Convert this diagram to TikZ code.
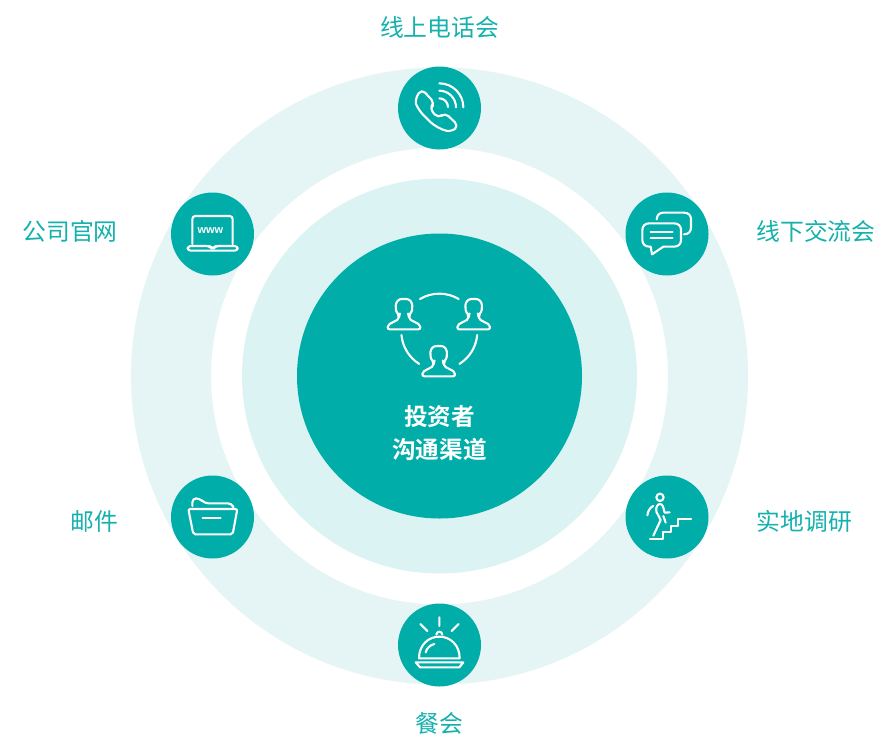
\documentclass[tikz,border=0pt]{standalone}
\usepackage{fontspec}
\setmainfont{Noto Sans CJK SC}[BoldFont={Noto Sans CJK SC Bold}]
\newfontfamily\wwwfont{Liberation Sans}
\definecolor{teal1}{HTML}{00ADA9}
\definecolor{labelc}{HTML}{14B1AD}
\definecolor{ringc}{HTML}{E5F5F5}
\definecolor{midc}{HTML}{DCF3F3}
\tikzset{
  badge/.style={circle,fill=teal1,minimum size=83pt,inner sep=0pt},
  lab/.style={text=labelc,font=\fontsize{23.8}{26}\selectfont,inner sep=0pt},
  ctr/.style={text=white,font=\fontsize{23.6}{26}\selectfont\bfseries,inner sep=0pt},
  ico/.style={draw=white,line width=2.1pt,line cap=round,line join=round},
  zoomed/.style={shift={#1},x=0.33333pt,y=-0.33333pt}
}
\newcommand{\PersonIcon}[2]{%
  \draw[ico,shift={(#1,#2)},rounded corners=2pt]
    (-49,91) -- (-49,78) -- (-15,60) -- (-15,49) -- (-14,47)
    .. controls (-28,36) and (-30,0) .. (0,0)
    .. controls (30,0) and (28,36) .. (14,47) -- (15,49) -- (15,60) -- (49,78) -- (49,91) -- cycle;}
\begin{document}
\begin{tikzpicture}[x=1pt,y=-1pt]
\useasboundingbox (0,0) rectangle (874,736);
\fill[white] (0,0) rectangle (874,736);
\coordinate (c) at (439.5,376);
\fill[ringc,even odd rule] (c) circle[radius=308.5] (c) circle[radius=228.5];
\fill[midc] (c) circle[radius=197.5];
\fill[teal1] (c) circle[radius=142.5];
\node[badge] (b1) at (439.5,108) {};
\node[badge] (b2) at (667,234) {};
\node[badge] (b3) at (667,517) {};
\node[badge] (b4) at (439.5,645) {};
\node[badge] (b5) at (212.5,517) {};
\node[badge] (b6) at (212.5,234) {};
\node[lab] (l1) at (439.5,27.5) {线上电话会};
\node[lab] (l2) at (816,231.5) {线下交流会};
\node[lab] (l3) at (804.5,521.5) {实地调研};
\node[lab] (l4) at (439.5,723.5) {餐会};
\node[lab] (l5) at (94,521.5) {邮件};
\node[lab] (l6) at (70,231.5) {公司官网};
\node[ctr] (t1) at (439.5,416.5) {投资者};
\node[ctr] (t2) at (439.5,449.5) {沟通渠道};
% phone
\begin{scope}[zoomed={(370,50)}]
\draw[ico,rounded corners=5pt]
  (195,160) -- (178,175) -- (205,205) -- (225,188) -- (266,228) -- (245,245)
  .. controls (215,240) and (190,225) .. (170,205)
  .. controls (150,185) and (138,165) .. (136,145) -- (155,117) -- cycle;
\draw[ico] (208,145) arc[start angle=-90,end angle=0,radius=26];
\draw[ico] (208,122) arc[start angle=-90,end angle=0,radius=50];
\draw[ico] (208,100) arc[start angle=-90,end angle=0,radius=72];
\end{scope}
% laptop
\begin{scope}[zoomed={(150,180)}]
\draw[ico,rounded corners=3pt] (127,192) -- (127,108) -- (248,108) -- (248,192);
\draw[ico,rounded corners=3pt] (113,198) -- (178,198) -- (184,204) -- (192,204) -- (198,198) -- (263,198) -- (263,212) -- (113,212) -- cycle;
\node[text=white,font=\wwwfont\fontsize{11}{12}\selectfont\bfseries,inner sep=0pt] (www) at (181,153) {www};
\end{scope}
% chat
\begin{scope}[zoomed={(610,180)}]
\draw[ico] (140,118) .. controls (141,105) and (148,98) .. (160,98) -- (222,98)
  .. controls (235,98) and (243,106) .. (243,118) -- (243,142) .. controls (243,155) and (235,163) .. (222,163);
\draw[ico] (118,130) -- (192,130) .. controls (205,130) and (213,138) .. (213,150) -- (213,180)
  .. controls (213,192) and (205,200) .. (192,200) -- (160,200) -- (126,223) -- (122,200) -- (118,200)
  .. controls (105,200) and (97,192) .. (97,180) -- (97,150) .. controls (97,138) and (105,130) .. (118,130) -- cycle;
\draw[ico] (122,155) -- (188,155) (122,175) -- (188,175);
\end{scope}
% stairs
\begin{scope}[zoomed={(610,470)}]
\draw[ico] (150,82) circle[radius=11];
\draw[ico] (120,207) -- (158,207) -- (158,187) -- (182,187) -- (182,167) -- (205,167) -- (205,148) -- (243,148);
\draw[ico] (130,197) -- (152,150) -- (139,125) .. controls (137,112) and (142,102) .. (150,102)
  .. controls (158,102) and (160,112) .. (164,128) -- (179,127);
\draw[ico] (130,108) .. controls (120,112) and (114,122) .. (112,136);
\draw[ico] (160,138) -- (167,158);
\end{scope}
% bell
\begin{scope}[zoomed={(380,600)}]
\draw[ico] (178,52) -- (178,78) (121,72) -- (142,93) (236,72) -- (215,93);
\draw[ico] (169,104) arc[start angle=180,end angle=360,radius=9];
\draw[ico] (117,175) .. controls (117,135) and (145,110) .. (178,110) .. controls (211,110) and (239,135) .. (239,175) -- cycle;
\draw[ico] (137,157) .. controls (140,145) and (150,135) .. (163,132);
\draw[ico] (107,187) -- (250,187) -- (238,202) -- (120,202) -- cycle;
\end{scope}
% folder
\begin{scope}[zoomed={(150,470)}]
\draw[ico,rounded corners=4pt] (127,108) -- (127,85) -- (150,85) -- (163,100) -- (246,100) -- (249,108);
\draw[ico,rounded corners=2pt] (115,117) -- (262,117) -- (248,193) -- (130,193) -- cycle;
\draw[ico] (158,143) -- (212,143);
\end{scope}
% people
\begin{scope}[zoomed={(370,280)}]
\PersonIcon{102}{57}
\PersonIcon{311}{57}
\PersonIcon{206}{198}
\coordinate (pc) at (208,155);
\draw[ico] (pc) ++(-120.6:114) arc[start angle=-120.6,end angle=-59.4,radius=114];
\draw[ico] (pc) ++(175:114) arc[start angle=175,end angle=122,radius=114];
\draw[ico] (pc) ++(5:114) arc[start angle=5,end angle=58,radius=114];
\end{scope}
\end{tikzpicture}
\end{document}
